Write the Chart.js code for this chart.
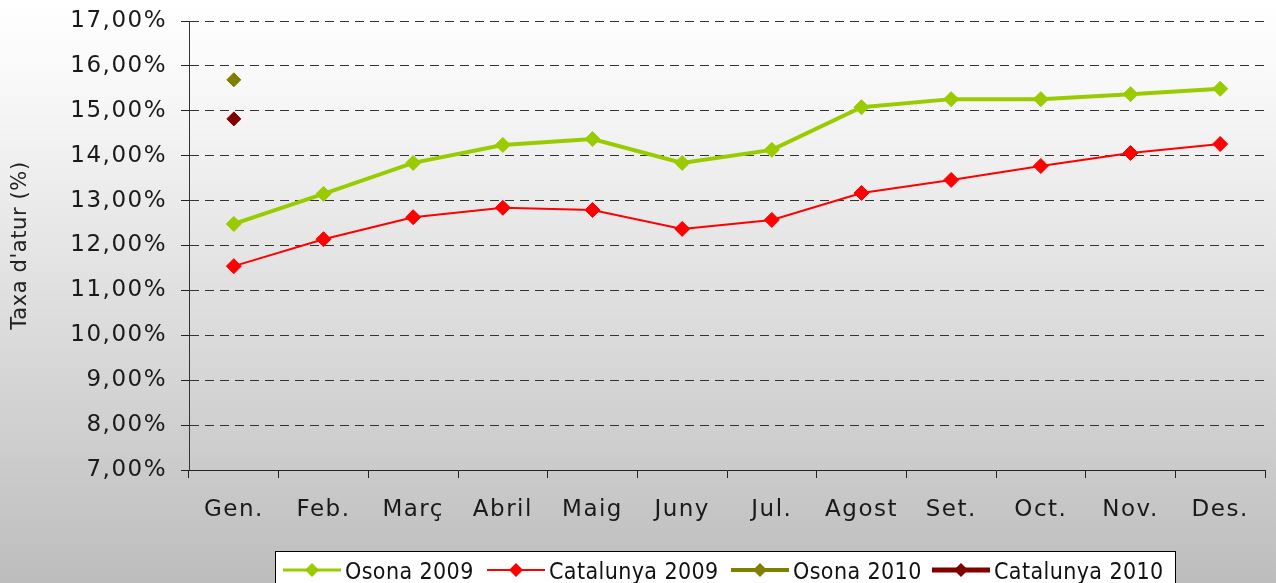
<!DOCTYPE html>
<html>
<head>
<meta charset="utf-8">
<script src="https://cdn.jsdelivr.net/npm/chart.js@4"></script>
<style>
html,body{margin:0;padding:0;background:#c0c0c0;}
#wrap{width:1276px;height:583px;position:relative;}
canvas{display:block;}
</style>
</head>
<body>
<div id="wrap"><canvas id="c" width="1276" height="583"></canvas></div>
<script>
const categories = ["Gen.", "Feb.", "Març", "Abril", "Maig", "Juny", "Jul.", "Agost", "Set.", "Oct.", "Nov.", "Des."];
const osona2009 = [12.48, 13.15, 13.84, 14.24, 14.37, 13.84, 14.13, 15.08, 15.26, 15.26, 15.37, 15.49];
const catalunya2009 = [11.54, 12.14, 12.63, 12.84, 12.79, 12.37, 12.57, 13.17, 13.46, 13.77, 14.06, 14.26];
const osona2010 = [15.69, null, null, null, null, null, null, null, null, null, null, null];
const catalunya2010 = [14.82, null, null, null, null, null, null, null, null, null, null, null];
const seriesLabels = ["Osona 2009", "Catalunya 2009", "Osona 2010", "Catalunya 2010"];
const yAxisTitle = "Taxa d'atur (%)";
const yMin = 7, yMax = 17, yStep = 1;

const FONT = "'DejaVu Sans', Verdana, sans-serif";

const bgPlugin = {
  id: 'bg',
  beforeLayout(chart) { chart.ctx.letterSpacing = '1.5px'; },
  beforeDraw(chart) {
    const ctx = chart.ctx;
    ctx.save();
    const g = ctx.createLinearGradient(0, 0, 0, chart.height);
    g.addColorStop(0, '#ffffff');
    g.addColorStop(0.15, '#f8f8f8');
    g.addColorStop(1, '#bdbdbd');
    ctx.fillStyle = g;
    ctx.fillRect(0, 0, chart.width, chart.height);
    ctx.restore();
    ctx.letterSpacing = '1.5px';
  },
  afterDraw(chart) {
    const ctx = chart.ctx;
    ctx.save();
    ctx.letterSpacing = '0.6px';
    // axis title
    ctx.translate(21, (chart.chartArea.top + chart.chartArea.bottom) / 2);
    ctx.rotate(-Math.PI / 2);
    ctx.fillStyle = '#222';
    ctx.font = "21px " + FONT;
    ctx.textAlign = 'center';
    ctx.textBaseline = 'middle';
    ctx.fillText(yAxisTitle, 0, 0);
    ctx.restore();

    // legend
    ctx.save();
    ctx.letterSpacing = '0.4px';
    const boxL = 275.5, boxT = 551.5, boxR = 1175.5;
    ctx.fillStyle = '#ffffff';
    ctx.fillRect(boxL, boxT, boxR - boxL, chart.height - boxT + 5);
    ctx.strokeStyle = '#000';
    ctx.lineWidth = 1;
    ctx.strokeRect(boxL, boxT, boxR - boxL, chart.height - boxT + 5);
    ctx.font = "23px 'DejaVu Sans Condensed', 'DejaVu Sans', sans-serif";
    ctx.textBaseline = 'alphabetic';
    const lw = [3, 2, 4, 5];
    const starts = [283, 487, 731, 932];
    const yL = 570;
    chart.data.datasets.forEach((ds, i) => {
      const x0 = starts[i];
      ctx.strokeStyle = ds.borderColor;
      ctx.lineWidth = lw[i];
      ctx.beginPath();
      ctx.moveTo(x0, yL);
      ctx.lineTo(x0 + 58, yL);
      ctx.stroke();
      const cx = x0 + 29, r = 7;
      ctx.fillStyle = ds.borderColor;
      ctx.beginPath();
      ctx.moveTo(cx, yL - r); ctx.lineTo(cx + r, yL); ctx.lineTo(cx, yL + r); ctx.lineTo(cx - r, yL);
      ctx.closePath(); ctx.fill();
      ctx.fillStyle = '#111';
      ctx.fillText(ds.label, x0 + 62, 579);
    });
    ctx.restore();
  }
};

const mk = (label, data, color, width, radius) => ({
  label, data,
  borderColor: color, backgroundColor: color,
  borderWidth: width,
  pointStyle: 'rectRot', pointRadius: radius, pointHoverRadius: radius,
  pointBorderWidth: 1, pointBorderColor: color, pointBackgroundColor: color,
  tension: 0, spanGaps: false
});

new Chart(document.getElementById('c'), {
  type: 'line',
  data: {
    labels: categories,
    datasets: [
      mk(seriesLabels[0], osona2009, '#99cc00', 4, 7.5),
      mk(seriesLabels[1], catalunya2009, '#ff0000', 2, 7.5),
      mk(seriesLabels[2], osona2010, '#808000', 4, 7),
      mk(seriesLabels[3], catalunya2010, '#800000', 4, 7)
    ]
  },
  options: {
    responsive: false,
    animation: false,
    events: [],
    layout: { padding: { left: 0, right: 11, top: 21, bottom: 0 } },
    plugins: { legend: { display: false }, tooltip: { enabled: false } },
    scales: {
      x: {
        offset: true,
        afterFit(s) { s.height = 113; s.paddingLeft = 0; s.paddingRight = 0; },
        grid: { display: true, drawOnChartArea: false, drawTicks: true, tickLength: 8, offset: true, color: '#222', lineWidth: 1 },
        border: { display: true, color: '#222', width: 1 },
        ticks: { color: '#1a1a1a', font: { family: FONT, size: 23 }, padding: 18, maxRotation: 0, autoSkip: false }
      },
      y: {
        min: yMin, max: yMax,
        afterFit(s) { s.width = 189; s.paddingTop = 0; s.paddingBottom = 0; },
        grid: { color: '#333', lineWidth: 1, drawTicks: true, tickLength: 8, tickBorderDash: [], tickColor: '#222' },
        border: { display: true, color: '#333', width: 1, dash: [9, 6] },
        ticks: {
          stepSize: yStep, color: '#1a1a1a', font: { family: FONT, size: 23 }, padding: 14,
          callback: v => v.toFixed(2).replace('.', ',') + '%'
        }
      }
    }
  },
  plugins: [bgPlugin]
});
</script>
</body>
</html>
